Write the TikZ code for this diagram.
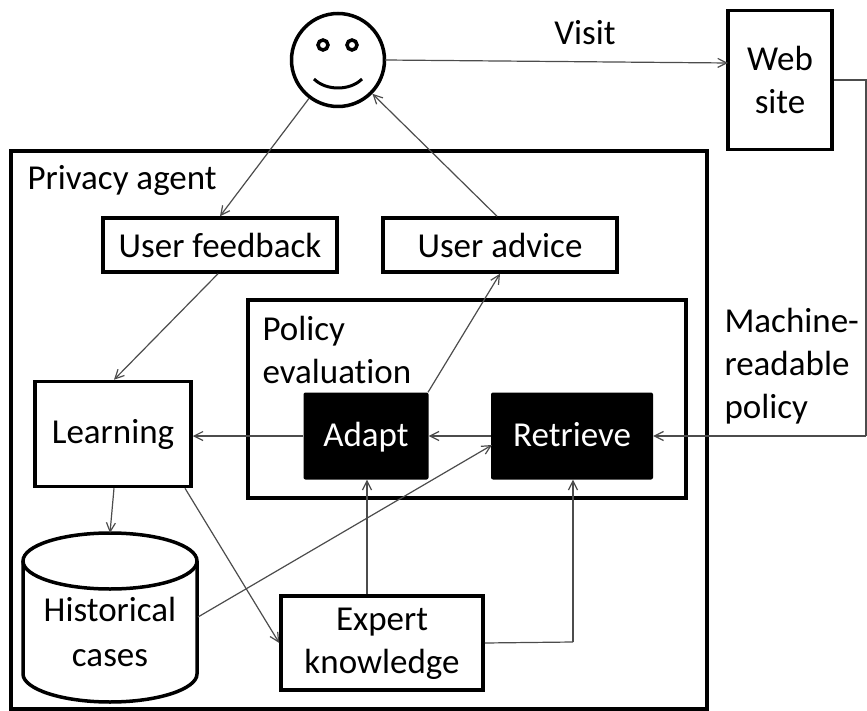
\documentclass[tikz,border=0pt]{standalone}
\usepackage{fontspec}
\setmainfont[Ligatures=NoCommon]{Carlito}
\usetikzlibrary{arrows.meta,positioning,shapes.geometric}
\begin{document}
\begin{tikzpicture}[
    x=1pt, y=-1pt,
    >={Straight Barb[length=9pt,width=9pt]},
    every node/.style={font=\fontsize{35}{43}\selectfont},
    box/.style={
        rectangle,
        draw,
        line width=3.5pt,
        align=center,
        inner sep=0pt
    },
    blackbox/.style={
        rectangle,
        rounded corners=2pt,
        fill=black,
        text=white,
        text height=24pt,
        text depth=4pt,
        inner sep=0pt
    },
    eye/.style={circle, draw, line width=3.5pt, fill=white, minimum size=10pt, inner sep=0pt},
    link/.style={->, line width=1.2pt, black!70},
    plainlink/.style={line width=1.2pt, black!70}
]
    \useasboundingbox (0,0) rectangle (867,711);

    % === FRAMES ===
    \node[box, minimum width=696pt, minimum height=558pt] (agent) at (359,430) {};
    \node[anchor=west] (agentlabel) at (24,180) {Privacy agent};
    \node[box, minimum width=438pt, minimum height=198pt] (policy) at (467,399) {};
    \node[anchor=north west, align=left] (policylabel) at (259,313) {Policy\\evaluation};

    % === USER AND WEB SITE ===
    \node[circle, draw, line width=3.5pt, minimum size=93pt, inner sep=0pt] (user) at (338,60) {};
    \node[eye] (lefteye) at (323,45) {};
    \node[eye] (righteye) at (352,45) {};
    \draw[line width=3pt] (314,79) .. controls (326,91) and (350,91) .. (362,79);
    \node[box, minimum width=104pt, minimum height=139pt] (site) at (780,80) {Web\\site};
    \node (visit) at (585,33) {Visit};

    % === BOXES ===
    \node[box, minimum width=234pt, minimum height=54pt] (feedback) at (220,245) {User feedback};
    \node[box, minimum width=234pt, minimum height=54pt] (advice) at (500,245) {User advice};
    \node[box, minimum width=156pt, minimum height=105pt] (learning) at (113,434) {Learning};
    \node[blackbox, minimum width=125pt, minimum height=87pt] (adapt) at (366,436) {Adapt};
    \node[blackbox, minimum width=162pt, minimum height=87pt] (retrieve) at (572,436) {Retrieve};
    \node[box, minimum width=202pt, minimum height=94pt] (expert) at (382,643) {\raisebox{-9pt}[0pt][0pt]{Expert}\\\raisebox{-9pt}[0pt][0pt]{knowledge}};

    % Historical cases drum
    \draw[line width=3.5pt] (110,561) ellipse [x radius=87, y radius=28];
    \draw[line width=3.5pt] (23,561) -- (23,674) .. controls (23,689) and (62,702) .. (110,702) .. controls (158,702) and (197,689) .. (197,674) -- (197,561);
    \node[align=center] (cases) at (110,632) {Historical\\[2pt]cases};
    \coordinate (casestop) at (110,533);

    \node[align=left, anchor=north west] (machine) at (721,305) {Machine-\\readable\\policy};

    % === CONNECTORS ===
    \coordinate (siteout) at (866,80);
    \coordinate (corner) at (866,436);
    \coordinate (expertturn) at (573,642);
    \coordinate (userout) at (385,60);
    \coordinate (sitein) at (728,63);
    \coordinate (casesout) at (198,617);
    \coordinate (retrievein) at (492,445);
    \draw[link] (userout) -- (sitein);
    \draw[plainlink] (site.east) -- (siteout) -- (corner);
    \draw[link] (corner) -- (retrieve.east);
    \draw[link] (user) -- (feedback.north -| 220,217);
    \draw[link] (advice.north -| 497,217) -- (user);
    \draw[link] (feedback.south -| 218,273) -- (learning.north -| 114,381);
    \draw[link] (adapt.west) -- (learning.east |- adapt.west);
    \draw[link] (retrieve.west) -- (adapt.east);
    \draw[link] (adapt.north -| 428,392) -- (advice.south);
    \draw[link] (learning.south -| 114,487) -- (casestop);
    \draw[link] (learning.south -| 185,487) -- (expert.west);
    \draw[link] (casesout) -- (retrievein);
    \draw[link] (expert.north -| 367,596) -- (adapt.south -| 367,479);
    \draw[plainlink] (expert.east) -- (expertturn);
    \draw[link] (expertturn) -- (retrieve.south -| 573,479);
\end{tikzpicture}
\end{document}
